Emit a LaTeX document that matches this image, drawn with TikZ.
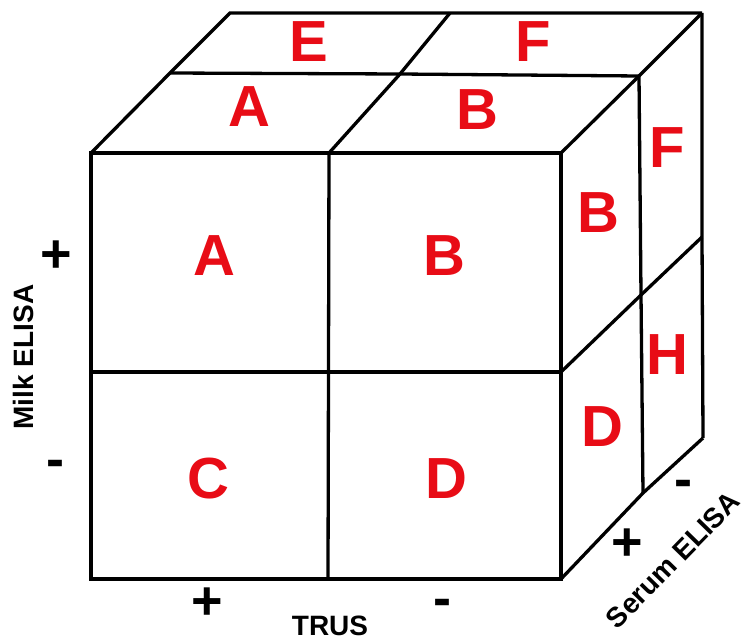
\documentclass[tikz,border=0pt]{standalone}
\usepackage{fontspec}
\setmainfont{Liberation Sans}
\definecolor{cellred}{RGB}{232,12,22}
\begin{document}
\begin{tikzpicture}[x=1pt,y=-1pt,
  edge/.style={line width=3.3pt,black},
  cell/.style={inner sep=0pt,text=cellred,font=\fontsize{58}{58}\selectfont\bfseries},
  sign/.style={inner sep=0pt,font=\fontsize{54}{54}\selectfont\bfseries},
  axis/.style={inner sep=0pt,font=\fontsize{28}{28}\selectfont\bfseries}]
\useasboundingbox (0,0) rectangle (746,642);
% front face
\coordinate (fTL) at (91,153);  \coordinate (fTM) at (329,153); \coordinate (fTR) at (561,153);
\coordinate (fML) at (91,372);  \coordinate (fMR) at (561,372);
\coordinate (fBL) at (91,579);  \coordinate (fBM) at (328,579); \coordinate (fBR) at (561,579);
% middle depth
\coordinate (mTL) at (170,73); \coordinate (mTM) at (400,74); \coordinate (mTR) at (639,76);
\coordinate (mMR) at (641,295); \coordinate (mBR) at (643,493);
% back
\coordinate (bTL) at (230,13); \coordinate (bTM) at (450,13); \coordinate (bTR) at (702,13);
\coordinate (bMR) at (702,237); \coordinate (bBR) at (703,438);
% edges
\draw[edge] (fTL) rectangle (fBR);
\draw[edge] (fTM) -- (fBM);
\draw[edge] (fML) -- (fMR);
\draw[edge] (fTL) -- (mTL) -- (bTL) -- (bTM) -- (bTR);
\draw[edge] (mTL) -- (mTM) -- (mTR);
\draw[edge] (fTM) -- (mTM) -- (bTM);
\draw[edge] (fTR) -- (mTR) -- (bTR);
\draw[edge] (mTR) -- (mMR) -- (mBR);
\draw[edge] (bTR) -- (bMR) -- (bBR);
\draw[edge] (fMR) -- (mMR) -- (bMR);
\draw[edge] (fBR) -- (mBR) -- (bBR);
% cell letters
\node[cell] (fA) at (214,256) {A};
\node[cell] (fB) at (444,256) {B};
\node[cell] (fC) at (208,479) {C};
\node[cell] (fD) at (446,479) {D};
\node[cell] (tA) at (249,107) {A};
\node[cell] (tB) at (477,110) {B};
\node[cell] (tE) at (309,42) {E};
\node[cell] (tF) at (533,42) {F};
\node[cell] (rB) at (598,213) {B};
\node[cell] (rD) at (602,427) {D};
\node[cell] (rF) at (667,148) {F};
\node[cell] (rH) at (667,355) {H};
% axis signs
\node[sign] (mp) at (56,257) {+};
\node[sign] (mm) at (55,469) {-};
\node[sign] (tp) at (207,604) {+};
\node[sign] (tm) at (442,608) {-};
\node[sign] (sp) at (627,545) {+};
\node[sign] (sm) at (683,489) {-};
% axis labels
\node[axis,rotate=90] (milk) at (23,357) {Milk ELISA};
\node[axis] (trus) at (330,626) {TRUS};
\node[axis,rotate=45.7] (serum) at (673,560) {Serum ELISA};
\end{tikzpicture}
\end{document}
